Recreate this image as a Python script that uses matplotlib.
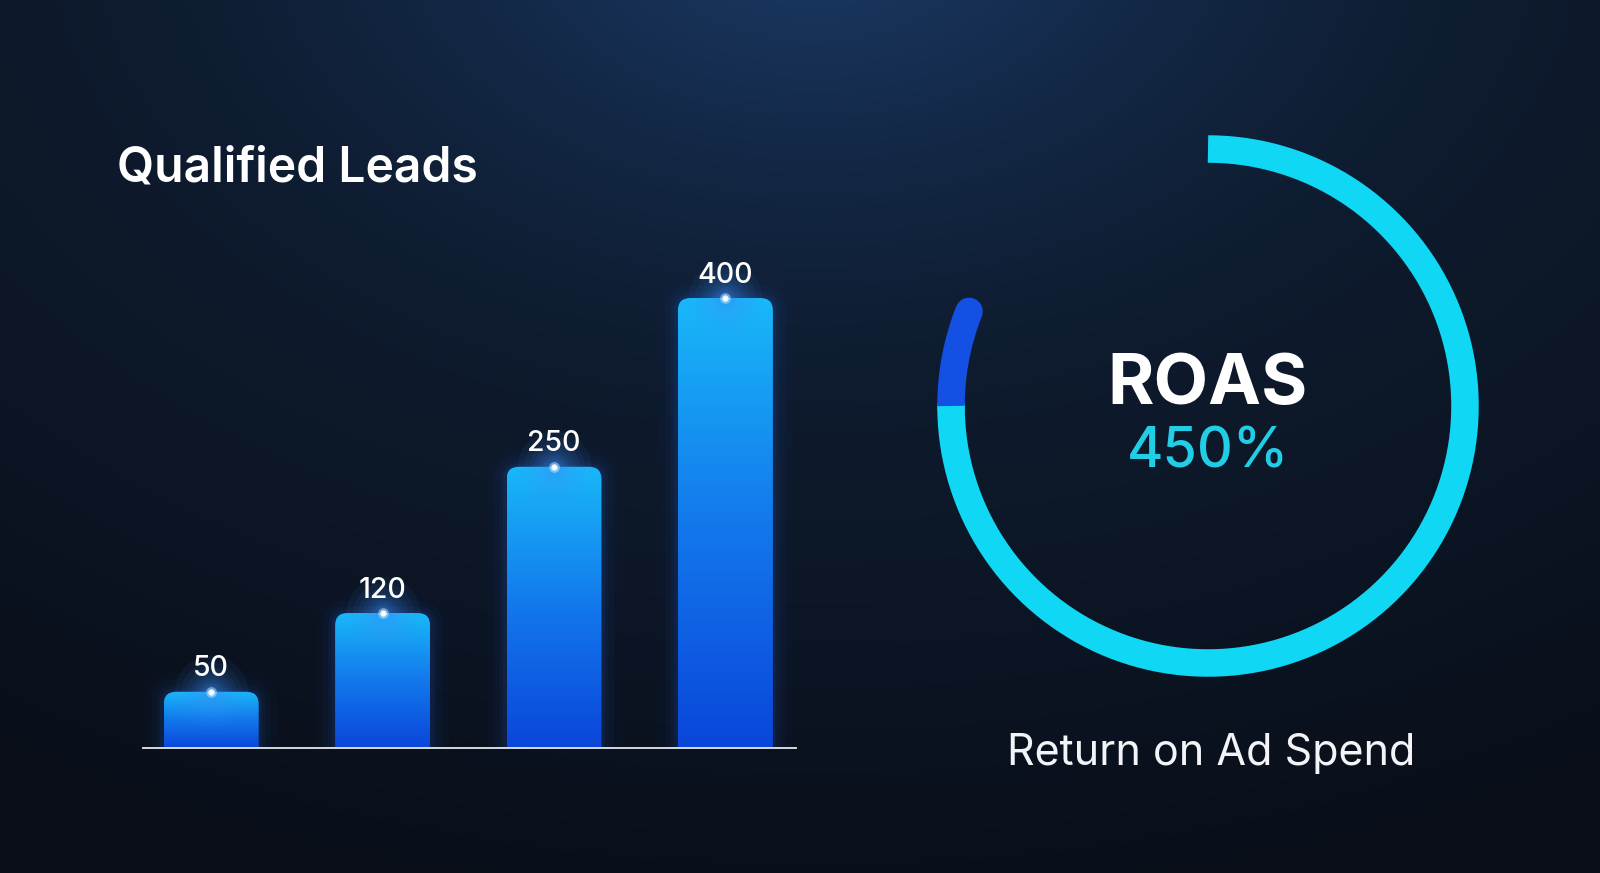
import numpy as np
import matplotlib
matplotlib.use("Agg")
import matplotlib.pyplot as plt
from matplotlib.patches import FancyBboxPatch, Circle
from matplotlib.colors import LinearSegmentedColormap, to_rgb

# ---------------- data ----------------
categories = ["Stage 1", "Stage 2", "Stage 3", "Stage 4"]
lead_values = [50, 120, 250, 400]
chart_title = "Qualified Leads"
roas_label = "ROAS"
roas_value_text = "450%"
roas_caption = "Return on Ad Spend"
ring_fractions = [0.75, 0.06]          # main cyan arc, extra blue arc
ring_colors = ["#10d8f4", "#1450e4"]

# ---------------- figure ----------------
W, H = 1600, 873
DPI = 100
FONT = ["Inter", "DejaVu Sans"]
fig = plt.figure(figsize=(W / DPI, H / DPI), dpi=DPI)
fig.patch.set_facecolor("#0b1220")

# background radial glow
bg = fig.add_axes([0, 0, 1, 1])
bg.set_axis_off()
yy, xx = np.mgrid[0:H, 0:W]
r = np.sqrt(((xx - 815) / 900.0) ** 2 + ((yy + 80) / 600.0) ** 2)
c_glow = np.array(to_rgb("#1b3c6a"))
c_mid = np.array(to_rgb("#0d1829"))
c_out = np.array(to_rgb("#090e18"))
t1 = np.clip(r, 0, 1)[..., None]
t2 = np.clip((r - 1) / 0.7, 0, 1)[..., None]
img = c_glow * (1 - t1) ** 1.6 + c_mid * (1 - (1 - t1) ** 1.6)
img = img * (1 - t2) + c_out * t2
bg.imshow(img, extent=(0, W, H, 0), aspect="auto", interpolation="bilinear")
bg.set_xlim(0, W)
bg.set_ylim(H, 0)

# ---------------- bar chart ----------------
px_unit_x = 171.4
baseline_px = 748
ymax = 480
ax_h_px = 450.0 * ymax / 400.0
ax_left_px, ax_w_px = 143, 653
ax = fig.add_axes([ax_left_px / W, (H - baseline_px) / H, ax_w_px / W, ax_h_px / H])
ax.set_axis_off()
ax.patch.set_alpha(0)

x = np.arange(len(categories))
bars = ax.bar(x, lead_values, width=95 / px_unit_x, color="none", edgecolor="none")

x_off = (211.2 - ax_left_px) / px_unit_x
xlim = (-x_off, -x_off + ax_w_px / px_unit_x)
ylim = (0, ymax)

rs = 12.5 / px_unit_x
m_aspect = (ymax / ax_h_px) * px_unit_x
grad_cmap = LinearSegmentedColormap.from_list("bar", ["#0a46da", "#1378ec", "#19b8f8"])
grad = np.linspace(0, 1, 256).reshape(-1, 1)

for rect in bars:
    x0, w, h = rect.get_x(), rect.get_width(), rect.get_height()
    pad = 30
    # soft outer glow
    for lw, a in [(28, 0.02), (18, 0.035), (10, 0.05), (5, 0.07)]:
        g = FancyBboxPatch((x0, -pad), w, h + pad,
                           boxstyle=f"round,pad=0,rounding_size={rs}",
                           mutation_aspect=m_aspect, facecolor="none",
                           edgecolor="#2a78ff", linewidth=lw, alpha=a, zorder=1)
        ax.add_patch(g)
    clip = FancyBboxPatch((x0, -pad), w, h + pad,
                          boxstyle=f"round,pad=0,rounding_size={rs}",
                          mutation_aspect=m_aspect, facecolor="none",
                          edgecolor="none", transform=ax.transData)
    ax.add_patch(clip)
    im = ax.imshow(grad, extent=(x0, x0 + w, 0, h), origin="lower",
                   aspect="auto", cmap=grad_cmap, zorder=2, interpolation="bilinear")
    im.set_clip_path(clip)
    xc = x0 + w / 2
    # top highlight glow (gaussian-like layering)
    sizes = np.geomspace(2800, 60, 11)
    for s in sizes:
        ax.scatter([xc], [h], s=s, color="#3f95ff", alpha=0.065, linewidths=0,
                   zorder=3, clip_on=False)
    for s, c, a in [(60, "#bfe6ff", 0.5), (22, "#f2faff", 0.9), (8, "#ffffff", 1.0)]:
        ax.scatter([xc], [h], s=s, color=c, alpha=a, linewidths=0, zorder=3,
                   clip_on=False)
    ax.annotate(f"{int(h)}", (xc, h), xytext=(0, 11), textcoords="offset points",
                ha="center", va="baseline", fontsize=20.5, color="white",
                family=FONT, fontweight="medium", zorder=4)

ax.axhline(0, color="#e6e9ef", linewidth=1.3, clip_on=False, zorder=5)
ax.set_xlim(*xlim)
ax.set_ylim(*ylim)

# ---------------- overlay (pixel coords) ----------------
ov = fig.add_axes([0, 0, 1, 1])
ov.set_axis_off()
ov.patch.set_alpha(0)
ov.set_xlim(0, W)
ov.set_ylim(H, 0)

ov.text(117, 181, chart_title, fontsize=34.6, color="white", family=FONT,
        fontweight="semibold", ha="left", va="baseline")

# ring gauge
cx, cy, R = 1208, 406, 257
ring_lw = 27.5 * 72 / DPI
start = 90.0
ang_main = np.radians(np.linspace(start, start - 360 * ring_fractions[0], 400))
ang_extra = np.radians(np.linspace(start - 360 * ring_fractions[0],
                                   start - 360 * (ring_fractions[0] + ring_fractions[1]), 60))
ov.plot(cx + R * np.cos(ang_extra), cy - R * np.sin(ang_extra), color=ring_colors[1],
        linewidth=ring_lw, solid_capstyle="round")
ov.plot(cx + R * np.cos(ang_main), cy - R * np.sin(ang_main), color=ring_colors[0],
        linewidth=ring_lw, solid_capstyle="butt")
ov.add_patch(Circle((cx + R * np.cos(ang_main[-1]), cy - R * np.sin(ang_main[-1])),
                    13.75, color=ring_colors[0], linewidth=0))

ov.text(cx, 404, roas_label, fontsize=51, color="white", family=FONT,
        fontweight="bold", ha="center", va="baseline")
ov.text(cx, 468, roas_value_text, fontsize=40, color="#22cde6", family=FONT,
        fontweight="medium", ha="center", va="baseline")
ov.text(1211, 765, roas_caption, fontsize=31, color="#f2f4f8", family=FONT,
        fontweight="normal", ha="center", va="baseline")

fig.savefig("out.png", dpi=DPI, facecolor=fig.get_facecolor())
